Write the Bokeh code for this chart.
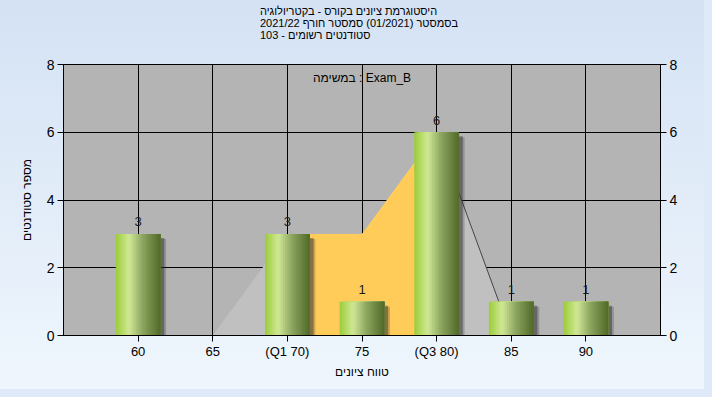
from bokeh.plotting import figure
from bokeh.models import Range1d, FixedTicker, LinearAxis, Label, ColumnDataSource, Title
from bokeh.core.properties import value
from bokeh.embed import file_html
from bokeh.resources import INLINE

# ---- data ----
categories = ["60", "65", "(Q1 70)", "75", "(Q3 80)", "85", "90"]
counts = [3, 0, 3, 1, 6, 1, 1]
curve = [0, 0, 3, 3, 6, 0, 0]
q1_index = 2
q3_index = 4
y_ticks = [0, 2, 4, 6, 8]

title_lines = [
    "היסטוגרמת ציונים בקורס - בקטריולוגיה",
    "בסמסטר  (01/2021)  סמסטר חורף 2021/22",
    "סטודנטים רשומים - 103",
]
task_label = "במשימה : Exam_B"
x_title = "טווח ציונים"
y_title = "מספר סטודנטים"

FONT = "Liberation Sans"
xs = list(range(1, len(categories) + 1))

p = figure(width=704, height=389, output_backend="svg", toolbar_location=None,
           x_range=Range1d(0, len(categories) + 1), y_range=Range1d(0, 8),
           min_border_left=63, min_border_right=44, min_border_top=64, min_border_bottom=54)
p.background_fill_color = "#B4B4B4"
p.border_fill_color = None
p.styles = {"background": "linear-gradient(to bottom, #D4E2F4, #EFF6FD)",
            "box-shadow": "0 0 0 8px #DFEAF8"}
p.outline_line_color = "black"
p.outline_line_width = 1

p.add_layout(Title(text="\n".join(title_lines + ["", ""]), align="center", offset=-13,
                   text_font=FONT, text_font_size="11px", text_font_style="normal",
                   text_line_height=1.0, text_color="black", standoff=0), "above")

# grid
p.xgrid.ticker = FixedTicker(ticks=xs)
p.ygrid.ticker = FixedTicker(ticks=y_ticks)
for g in (p.xgrid, p.ygrid):
    g.grid_line_color = "black"
    g.grid_line_width = 1

# axes
p.xaxis.ticker = FixedTicker(ticks=xs)
p.xaxis.major_label_overrides = {x: c for x, c in zip(xs, categories)}
p.yaxis.ticker = FixedTicker(ticks=y_ticks)
right = LinearAxis(ticker=FixedTicker(ticks=y_ticks))
p.add_layout(right, "right")
for ax in (p.xaxis[0], p.yaxis[0], right):
    ax.axis_line_color = "black"
    ax.major_tick_line_color = "black"
    ax.minor_tick_line_color = None
    ax.major_tick_in = 0
    ax.major_tick_out = 6
    ax.major_label_text_font = FONT
    ax.major_label_text_font_size = "13px"
    ax.major_label_text_color = "black"
    ax.axis_label_text_font = FONT
    ax.axis_label_text_font_size = "12px"
    ax.axis_label_text_font_style = "normal"
    ax.axis_label_text_color = "black"
p.yaxis[0].major_label_text_font_size = "14px"
right.major_label_text_font_size = "14px"
p.xaxis.major_label_standoff = 2
p.yaxis[0].major_label_standoff = 3
right.major_label_standoff = 3
p.xaxis.axis_label = x_title
p.xaxis.axis_label_standoff = 3
p.yaxis[0].axis_label = y_title
p.yaxis[0].axis_label_standoff = 10

# curve area (grey) and inter-quartile area (yellow)
p.varea(x=xs, y1=[0] * len(xs), y2=curve, fill_color="#C0C0C0")
p.varea(x=xs[q1_index:q3_index + 1], y1=[0] * (q3_index - q1_index + 1),
        y2=curve[q1_index:q3_index + 1], fill_color="#FFCC5A")
p.line(xs[:2], curve[:2], line_color="#7A7A7A", line_width=1)
p.line(xs[q3_index:], curve[q3_index:], line_color="#454545", line_width=1)

# bars with shadows and horizontal gradient
bx = [x for x, c in zip(xs, counts) if c > 0]
bc = [c for c in counts if c > 0]
BW = 0.6
p.vbar(x=[x + 0.075 for x in bx], top=[c - 0.15 for c in bc], bottom=0, width=BW,
       fill_color="#303030", fill_alpha=0.25, line_color=None)
p.vbar(x=[x + 0.05 for x in bx], top=[c - 0.12 for c in bc], bottom=0, width=BW,
       fill_color="#303030", fill_alpha=0.45, line_color=None)

stops = [(0.0, (155, 205, 55)), (0.3, (208, 232, 150)), (0.6, (140, 165, 95)), (1.0, (80, 105, 40))]
def grad(t):
    for (t0, c0), (t1, c1) in zip(stops[:-1], stops[1:]):
        if t0 <= t <= t1:
            f = (t - t0) / (t1 - t0)
            return "#%02x%02x%02x" % tuple(int(round(a + (b - a) * f)) for a, b in zip(c0, c1))
    return "#%02x%02x%02x" % stops[-1][1]
N = 20
sw = BW / N
for i in range(N):
    t = (i + 0.5) / N
    left_off = -BW / 2 + i * sw
    p.quad(left=[x + left_off for x in bx], right=[x + BW / 2 for x in bx], top=bc, bottom=0,
           fill_color=grad(t), line_color=None)

# value labels
src = ColumnDataSource(dict(x=bx, y=bc, t=[str(c) for c in bc]))
p.text(x="x", y="y", text="t", source=src, text_align="center", text_baseline="alphabetic",
       y_offset=-12, text_font=value(FONT), text_font_size="13px", text_color="#1a1a1a")

# task label
p.add_layout(Label(x=4, y=7.6, text=task_label, text_align="center", text_baseline="middle",
                   text_font=FONT, text_font_size="12px", text_color="black"))

open("out.html", "w").write(file_html(p, INLINE))
